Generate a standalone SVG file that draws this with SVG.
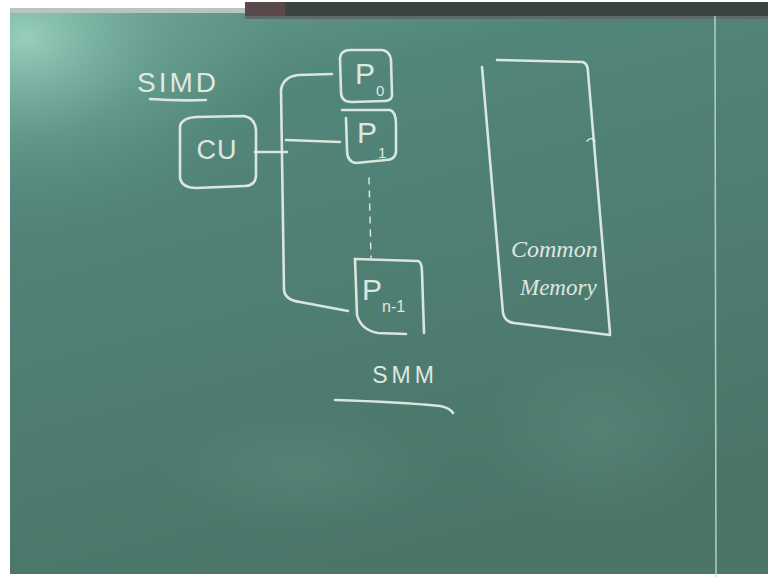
<svg xmlns="http://www.w3.org/2000/svg" width="768" height="577" viewBox="0 0 768 577">
  <defs>
    <linearGradient id="board" x1="0" y1="0" x2="0.35" y2="1">
      <stop offset="0" stop-color="#679c8c"/>
      <stop offset="0.25" stop-color="#52857a"/>
      <stop offset="1" stop-color="#4b7569"/>
    </linearGradient>
    <radialGradient id="glare" cx="0.02" cy="0.05" r="0.35">
      <stop offset="0" stop-color="#a8e0cf" stop-opacity="0.75"/>
      <stop offset="0.5" stop-color="#7fbcaa" stop-opacity="0.3"/>
      <stop offset="1" stop-color="#6aa292" stop-opacity="0"/>
    </radialGradient>
    <radialGradient id="smudge" cx="0.5" cy="0.5" r="0.5">
      <stop offset="0" stop-color="#7aa89a" stop-opacity="0.2"/>
      <stop offset="1" stop-color="#7aa89a" stop-opacity="0"/>
    </radialGradient>
  </defs>
  <style>
    .chalk { fill: none; stroke: #e4eee6; stroke-width: 2.6; stroke-linecap: round; stroke-linejoin: round; opacity: 0.93; }
    .thin { stroke-width: 1.6; }
    .dash { stroke-dasharray: 6 7; stroke-width: 1.5; }
    .label { fill: #e8f0ea; font-family: "Liberation Sans", "DejaVu Sans", sans-serif; opacity: 0.93; }
    .script { fill: #e8f0ea; font-family: "Liberation Serif", "DejaVu Serif", serif; font-style: italic; opacity: 0.93; }
  </style>

  <!-- frame, tray and board surface -->
  <rect x="0" y="0" width="768" height="577" fill="#ffffff"/>
  <rect x="10" y="10" width="758" height="564" fill="url(#board)"/>
  <rect x="10" y="10" width="758" height="564" fill="url(#glare)"/>
  <ellipse cx="300" cy="470" rx="140" ry="60" fill="url(#smudge)"/>
  <ellipse cx="600" cy="430" rx="120" ry="90" fill="url(#smudge)"/>
  <rect x="10" y="8" width="240" height="5" fill="#b9c4c0"/>
  <rect x="245" y="2" width="523" height="16" fill="#3b4343"/>
  <rect x="245" y="2" width="40" height="16" fill="#5a4a4c"/>
  <rect x="245" y="16" width="523" height="3" fill="#5d6a66"/>
  <!-- board panel seam -->
  <line x1="715" y1="16" x2="716" y2="577" stroke="#c8ddd4" stroke-width="1.6" opacity="0.8"/>

  <!-- title -->
  <g id="title-simd">
    <text class="label" x="137" y="92" font-size="28" letter-spacing="3">SIMD</text>
    <path class="chalk" d="M150 99 Q178 101 206 100"/>
  </g>

  <!-- control unit -->
  <g id="cu">
    <path class="chalk" d="M180 126 Q182 118 196 117 L244 116 Q255 118 256 130 L256 176 Q255 186 245 186 L196 188 Q182 188 180 178 Z"/>
    <text class="label" x="217" y="159" font-size="27" text-anchor="middle" letter-spacing="1">CU</text>
  </g>

  <!-- processing elements -->
  <g id="p0">
    <path class="chalk" d="M340 58 Q341 50 350 50 L382 50 Q390 51 391 60 L392 96 Q391 101 384 101 L352 102 Q341 102 341 92 Z"/>
    <text class="label" x="355" y="84" font-size="30">P</text>
    <text class="label" x="376" y="96" font-size="15">0</text>
  </g>
  <g id="p1">
    <path class="chalk" d="M342 110 L390 110 Q396 112 396 124 L396 152 Q395 160 386 160 L356 163 Q347 162 347 150 L346 118"/>
    <text class="label" x="357" y="143" font-size="30">P</text>
    <text class="label" x="378" y="158" font-size="15">1</text>
  </g>
  <g id="pn-1">
    <path class="chalk" d="M355 259 L418 261 Q422 262 422 272 L424 333"/>
    <path class="chalk" d="M355 259 Q356 290 357 315 Q361 330 378 333 L406 334"/>
    <text class="label" x="362" y="300" font-size="30">P</text>
    <text class="label" x="382" y="312" font-size="16">n-1</text>
  </g>

  <!-- shared memory -->
  <g id="common-memory">
    <path class="chalk" d="M497 60 L583 62 Q588 64 588 72 L610 333"/>
    <path class="chalk" d="M482 67 L503 313 Q505 322 514 323 L610 335"/>
    <path class="chalk thin" d="M587 141 Q592 136 595 141"/>
    <text class="script" x="511" y="257" font-size="24">Common</text>
    <text class="script" x="520" y="295" font-size="23">Memory</text>
  </g>

  <!-- model label -->
  <g id="title-smm">
    <text class="label" x="405" y="383" font-size="23" text-anchor="middle" letter-spacing="4">SMM</text>
    <path class="chalk" d="M335 400 Q400 402 440 406 Q450 408 453 413"/>
  </g>

  <!-- bus wiring -->
  <g id="connectors">
    <path class="chalk" d="M332 74 L298 75 Q283 77 281 90 L284 290 Q285 300 300 302 L348 311"/>
    <path class="chalk" d="M255 152 L287 152"/>
    <path class="chalk" d="M286 140 L340 142"/>
    <path class="chalk dash" d="M369 178 L371 258"/>
  </g>
</svg>
